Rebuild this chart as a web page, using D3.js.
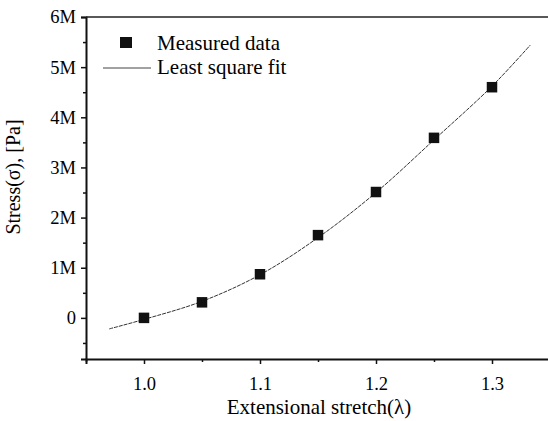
<!DOCTYPE html>
<html lang="en">
<head>
  <meta charset="UTF-8">
  <title>Stress vs extensional stretch</title>
  <script src="https://d3js.org/d3.v7.min.js"></script>
  <style>
    body { margin: 0; background: #fff; }
    text { font-family: "Liberation Serif", "Times New Roman", serif; fill: #000; }
  </style>
</head>
<body>
  <div id="chart"></div>
  <script>
    const width = 548;
    const height = 421;

    // measured points (lambda, stress in Pa)
    const stretch = [1.00, 1.05, 1.10, 1.15, 1.20, 1.25, 1.30];
    const stress = [0, 0.31e6, 0.87e6, 1.65e6, 2.51e6, 3.59e6, 4.60e6];

    // least square fit curve
    const fitStretch = [0.97, 1.00, 1.05, 1.10, 1.15, 1.20, 1.25, 1.30, 1.333];
    const fitStress = [-0.22e6, -0.03e6, 0.33e6, 0.86e6, 1.60e6, 2.50e6, 3.55e6, 4.62e6, 5.44e6];

    const xTicks = [1.0, 1.1, 1.2, 1.3];
    const xMinor = [0.95, 1.05, 1.15, 1.25, 1.35];
    const yTicks = [0, 1e6, 2e6, 3e6, 4e6, 5e6, 6e6];
    const yMinor = [-0.5e6, 0.5e6, 1.5e6, 2.5e6, 3.5e6, 4.5e6, 5.5e6];
    const yLabels = ["0", "1M", "2M", "3M", "4M", "5M", "6M"];

    const margin = { left: 86, top: 17, right: -2, bottom: 62 };

    const svg = d3.select("#chart").append("svg")
      .attr("width", width)
      .attr("height", height);

    const x = d3.scaleLinear()
      .domain([0.95, 1.35])
      .range([margin.left, width - margin.right]);

    const y = d3.scaleLinear()
      .domain([-0.82e6, 6e6])
      .range([height - margin.bottom, margin.top]);

    // axes
    svg.append("g")
      .attr("transform", `translate(0,${height - margin.bottom})`)
      .call(d3.axisBottom(x).tickValues(xTicks).tickFormat(d3.format(".1f")).tickSize(5).tickPadding(13));
    svg.append("g")
      .attr("transform", `translate(0,${height - margin.bottom})`)
      .call(d3.axisBottom(x).tickValues(xMinor).tickFormat("").tickSize(3))
      .select(".domain").remove();

    svg.append("g")
      .attr("transform", `translate(${margin.left},0)`)
      .call(d3.axisLeft(y).tickValues(yTicks).tickFormat((d, i) => yLabels[i]).tickSize(5).tickPadding(5));
    svg.append("g")
      .attr("transform", `translate(${margin.left},0)`)
      .call(d3.axisLeft(y).tickValues(yMinor).tickFormat("").tickSize(3))
      .select(".domain").remove();

    svg.selectAll("g").attr("font-family", "Liberation Serif, serif");
    svg.selectAll(".domain").attr("stroke", "#111").attr("stroke-width", 2);
    svg.selectAll(".tick line").attr("stroke", "#111").attr("stroke-width", 1.5);
    svg.selectAll(".tick text")
      .style("font-family", "'Liberation Serif', serif")
      .style("font-size", "18.5px")
      .attr("fill", "#000");

    // top frame line
    svg.append("line")
      .attr("x1", x(0.95)).attr("x2", x(1.35))
      .attr("y1", y(6e6)).attr("y2", y(6e6))
      .attr("stroke", "#222").attr("stroke-width", 1.6);

    // fit curve
    const line = d3.line()
      .x((d, i) => x(fitStretch[i]))
      .y(d => y(d))
      .curve(d3.curveCatmullRom);
    svg.append("path")
      .attr("d", line(fitStress))
      .attr("fill", "none")
      .attr("stroke", "#333")
      .attr("stroke-width", 1)
      .attr("stroke-dasharray", "4,1");

    // measured squares
    const s = 10.5;
    svg.selectAll("rect.pt")
      .data(stretch)
      .enter()
      .append("rect")
      .attr("class", "pt")
      .attr("x", d => x(d) - s / 2)
      .attr("y", (d, i) => y(stress[i]) - s / 2)
      .attr("width", s)
      .attr("height", s)
      .attr("fill", "#111");

    // legend
    const lg = svg.append("g");
    lg.append("rect").attr("x", 120).attr("y", 37).attr("width", 12).attr("height", 11).attr("fill", "#111");
    lg.append("text").attr("x", 157).attr("y", 50).style("font-size", "21px").text("Measured data");
    lg.append("line").attr("x1", 103).attr("x2", 151).attr("y1", 68).attr("y2", 68)
      .attr("stroke", "#444").attr("stroke-width", 1);
    lg.append("text").attr("x", 157).attr("y", 74).style("font-size", "21px").text("Least square fit");

    // axis titles
    svg.append("text")
      .attr("x", 319)
      .attr("y", 414)
      .attr("text-anchor", "middle")
      .style("font-size", "21px")
      .text("Extensional stretch(λ)");

    svg.append("text")
      .attr("transform", "translate(20,177) rotate(-90)")
      .attr("text-anchor", "middle")
      .style("font-size", "20px")
      .text("Stress(σ), [Pa]");
  </script>
</body>
</html>
